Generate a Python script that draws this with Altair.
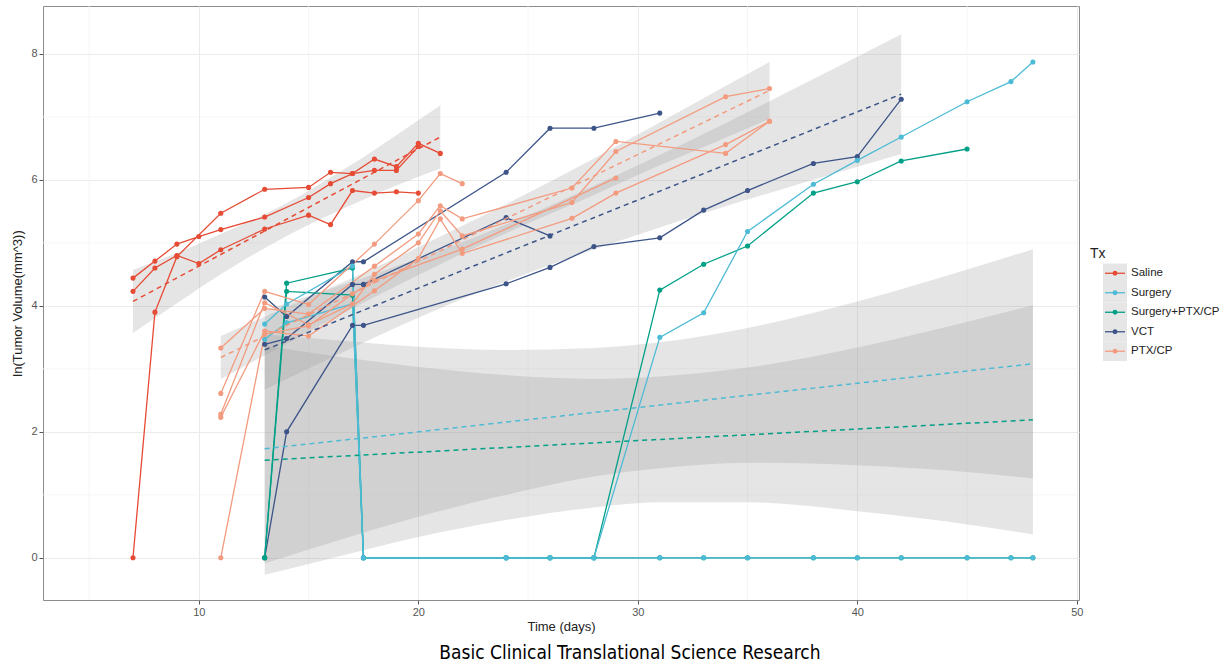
import altair as alt
import pandas as pd

TX_NAMES = ["Saline", "Surgery", "Surgery+PTX/CP", "VCT", "PTX/CP"]
TX_COLORS = ["#E64B35", "#4DBBD5", "#00A087", "#3C5488", "#F39B7F"]

X_TICKS = [10, 20, 30, 40, 50]
Y_TICKS = [0, 2, 4, 6, 8]
X_MINOR = [5, 15, 25, 35, 45]
Y_MINOR = [1, 3, 5, 7]

# ---- individual subjects (day, ln volume) ----
SAL1_DAY = [7, 8, 9, 10, 11, 13, 15, 16, 17, 18, 19, 20]
SAL1_VAL = [4.44, 4.71, 4.98, 5.10, 5.21, 5.41, 5.72, 5.94, 6.10, 6.15, 6.15, 6.53]
SAL2_DAY = [7, 8, 9, 10, 11, 13, 15, 16, 17, 18, 19, 20]
SAL2_VAL = [4.23, 4.60, 4.80, 4.67, 4.89, 5.22, 5.44, 5.29, 5.83, 5.79, 5.81, 5.79]
SAL3_DAY = [7, 8, 9, 11, 13, 15, 16, 17, 18, 19, 20, 21]
SAL3_VAL = [0.00, 3.90, 4.78, 5.47, 5.85, 5.88, 6.12, 6.10, 6.33, 6.21, 6.58, 6.42]

VCT1_DAY = [13, 14, 17, 17.5, 24, 26, 28, 31]
VCT1_VAL = [4.14, 3.83, 4.70, 4.70, 6.12, 6.82, 6.82, 7.06]
VCT2_DAY = [13, 14, 17, 17.5, 24, 26]
VCT2_VAL = [3.39, 3.48, 4.34, 4.34, 5.40, 5.11]
VCT3_DAY = [13, 14, 17, 17.5, 24, 26, 28, 31, 33, 35, 38, 40, 42]
VCT3_VAL = [0.00, 2.00, 3.69, 3.69, 4.35, 4.61, 4.94, 5.08, 5.52, 5.83, 6.26, 6.37, 7.28]

SPC1_DAY = [13, 14, 17, 17.5, 24, 26, 28, 31, 33, 35, 38, 40, 42, 45]
SPC1_VAL = [0.00, 4.36, 4.60, 0.00, 0.00, 0.00, 0.00, 4.25, 4.66, 4.95, 5.79, 5.97, 6.30, 6.49]
SPC2_DAY = [13, 14, 17, 17.5, 24, 26, 28, 31, 33, 35, 38, 40, 42, 45, 47, 48]
SPC2_VAL = [0.00, 4.23, 4.17, 0.00, 0.00, 0.00, 0.00, 0.00, 0.00, 0.00, 0.00, 0.00, 0.00, 0.00, 0.00, 0.00]

SUR1_DAY = [13, 14, 17, 17.5, 24, 26, 28, 31, 33, 35, 38, 40, 42, 45, 47, 48]
SUR1_VAL = [3.71, 4.03, 4.63, 0.00, 0.00, 0.00, 0.00, 0.00, 0.00, 0.00, 0.00, 0.00, 0.00, 0.00, 0.00, 0.00]
SUR2_DAY = [13, 14, 17, 17.5, 24, 26, 28, 31, 33, 35, 38, 40, 42, 45, 47, 48]
SUR2_VAL = [3.47, 3.73, 4.03, 0.00, 0.00, 0.00, 0.00, 3.50, 3.89, 5.18, 5.93, 6.31, 6.68, 7.24, 7.56, 7.87]

PTX1_DAY = [11, 13, 15, 17, 18, 20, 21, 22, 27, 29, 34, 36]
PTX1_VAL = [2.28, 4.05, 3.70, 4.03, 4.50, 5.00, 5.51, 5.11, 5.64, 6.45, 7.32, 7.45]
PTX2_DAY = [11, 13, 15, 18, 20, 21, 22, 27, 29, 34, 36]
PTX2_VAL = [3.33, 3.96, 3.87, 4.63, 5.14, 5.59, 5.38, 5.87, 6.61, 6.42, 6.93]
PTX3_DAY = [11, 13, 15, 18, 20, 21, 22, 27, 29, 34, 36]
PTX3_VAL = [2.23, 3.60, 3.52, 4.24, 4.75, 5.38, 4.83, 5.39, 5.79, 6.56, 6.93]
PTX4_DAY = [11, 13, 15, 18, 20, 21, 22]
PTX4_VAL = [2.61, 4.23, 4.02, 4.98, 5.67, 6.10, 5.94]
PTX5_DAY = [11, 13, 15, 17, 18, 22, 29]
PTX5_VAL = [0.00, 3.55, 3.68, 4.19, 4.40, 4.90, 6.03]

# ---- linear fits (dashed) ----
FIT_X0 = [7, 13, 13, 13, 11]
FIT_X1 = [21, 48, 48, 42, 36]
FIT_Y0 = [4.07, 1.73, 1.55, 3.30, 3.18]
FIT_Y1 = [6.68, 3.08, 2.19, 7.36, 7.42]

# ---- confidence bands ----
SAL_BAND_X = [7, 9, 11, 14, 17, 19, 21]
SAL_BAND_LO = [3.57, 4.04, 4.50, 5.11, 5.61, 5.91, 6.18]
SAL_BAND_HI = [4.57, 4.84, 5.14, 5.63, 6.25, 6.71, 7.18]
SUR_BAND_X = [13, 16, 20, 24, 28, 31, 35, 40, 44, 48]
SUR_BAND_LO = [-0.09, 0.24, 0.65, 1.00, 1.29, 1.42, 1.51, 1.47, 1.39, 1.26]
SUR_BAND_HI = [3.55, 3.46, 3.35, 3.30, 3.33, 3.42, 3.65, 4.07, 4.47, 4.90]
SPC_BAND_X = [13, 16, 20, 24, 28, 31, 35, 40, 44, 48]
SPC_BAND_LO = [-0.27, -0.01, 0.33, 0.60, 0.80, 0.88, 0.88, 0.74, 0.58, 0.37]
SPC_BAND_HI = [3.37, 3.21, 3.03, 2.90, 2.84, 2.88, 3.02, 3.34, 3.66, 4.01]
VCT_BAND_X = [13, 16, 20, 23, 26, 30, 34, 38, 42]
VCT_BAND_LO = [2.67, 3.17, 3.81, 4.25, 4.65, 5.13, 5.58, 6.00, 6.41]
VCT_BAND_HI = [3.93, 4.27, 4.75, 5.15, 5.59, 6.23, 6.90, 7.60, 8.31]
PTX_BAND_X = [11, 14, 17, 21, 25, 28, 31, 34, 36]
PTX_BAND_LO = [2.84, 3.40, 3.96, 4.66, 5.31, 5.76, 6.23, 6.67, 6.97]
PTX_BAND_HI = [3.52, 3.98, 4.44, 5.10, 5.79, 6.34, 6.91, 7.49, 7.87]

SUBJECTS = [
    ("Saline", "sal1", SAL1_DAY, SAL1_VAL),
    ("Saline", "sal2", SAL2_DAY, SAL2_VAL),
    ("Saline", "sal3", SAL3_DAY, SAL3_VAL),
    ("VCT", "vct1", VCT1_DAY, VCT1_VAL),
    ("VCT", "vct2", VCT2_DAY, VCT2_VAL),
    ("VCT", "vct3", VCT3_DAY, VCT3_VAL),
    ("Surgery+PTX/CP", "spc1", SPC1_DAY, SPC1_VAL),
    ("Surgery+PTX/CP", "spc2", SPC2_DAY, SPC2_VAL),
    ("Surgery", "sur1", SUR1_DAY, SUR1_VAL),
    ("Surgery", "sur2", SUR2_DAY, SUR2_VAL),
    ("PTX/CP", "ptx1", PTX1_DAY, PTX1_VAL),
    ("PTX/CP", "ptx2", PTX2_DAY, PTX2_VAL),
    ("PTX/CP", "ptx3", PTX3_DAY, PTX3_VAL),
    ("PTX/CP", "ptx4", PTX4_DAY, PTX4_VAL),
    ("PTX/CP", "ptx5", PTX5_DAY, PTX5_VAL),
]
BANDS = [
    ("Saline", SAL_BAND_X, SAL_BAND_LO, SAL_BAND_HI),
    ("Surgery", SUR_BAND_X, SUR_BAND_LO, SUR_BAND_HI),
    ("Surgery+PTX/CP", SPC_BAND_X, SPC_BAND_LO, SPC_BAND_HI),
    ("VCT", VCT_BAND_X, VCT_BAND_LO, VCT_BAND_HI),
    ("PTX/CP", PTX_BAND_X, PTX_BAND_LO, PTX_BAND_HI),
]

rows = []
for tx, sid, days, vals in SUBJECTS:
    for d, v in zip(days, vals):
        rows.append({"Tx": tx, "id": sid, "day": d, "vol": v})
df = pd.DataFrame(rows)

brows = []
for tx, xs, los, his in BANDS:
    for x, lo, hi in zip(xs, los, his):
        brows.append({"Tx": tx, "day": x, "lo": lo, "hi": hi})
band_df = pd.DataFrame(brows)

frows = []
for tx, x0, x1, y0, y1 in zip(TX_NAMES, FIT_X0, FIT_X1, FIT_Y0, FIT_Y1):
    frows.append({"Tx": tx, "day": x0, "vol": y0})
    frows.append({"Tx": tx, "day": x1, "vol": y1})
fit_df = pd.DataFrame(frows)

FONT = "Liberation Sans"
W, H = 1036, 594

xscale = alt.Scale(domain=[2.9, 50.1], nice=False, zero=False)
yscale = alt.Scale(domain=[-0.67, 8.76], nice=False, zero=False)
xax = alt.Axis(values=X_TICKS, grid=True, gridColor="#ebebeb", gridWidth=1, domain=False,
               tickColor="#555555", tickSize=4, labelColor="#555555", labelFontSize=11,
               labelFont=FONT, labelPadding=2, title="Time (days)", titleFont=FONT,
               titleFontSize=13, titleFontWeight="normal", titleColor="#222222", titlePadding=3)
yax = alt.Axis(values=Y_TICKS, grid=True, gridColor="#ebebeb", gridWidth=1, domain=False,
               tickColor="#555555", tickSize=4, labelColor="#555555", labelFontSize=11,
               labelFont=FONT, labelPadding=2, title="ln(Tumor Volume(mm^3))", titleFont=FONT,
               titleFontSize=13, titleFontWeight="normal", titleColor="#222222", titlePadding=6)
cscale = alt.Scale(domain=TX_NAMES, range=TX_COLORS)

minor_x = alt.Chart(pd.DataFrame({"day": X_MINOR})).mark_rule(color="#f4f4f4", strokeWidth=0.8).encode(
    x=alt.X("day:Q", scale=xscale, axis=xax))
minor_y = alt.Chart(pd.DataFrame({"vol": Y_MINOR})).mark_rule(color="#f4f4f4", strokeWidth=0.8).encode(
    y=alt.Y("vol:Q", scale=yscale, axis=yax))

bands = alt.Chart(band_df).mark_area(interpolate="monotone", color="#999999", opacity=0.25).encode(
    x=alt.X("day:Q", scale=xscale, axis=xax),
    y=alt.Y("lo:Q", scale=yscale, axis=yax),
    y2="hi:Q",
    detail="Tx:N",
)

lines = alt.Chart(df).mark_line(strokeWidth=1.3).encode(
    x=alt.X("day:Q", scale=xscale, axis=xax),
    y=alt.Y("vol:Q", scale=yscale, axis=yax),
    color=alt.Color("Tx:N", scale=cscale, legend=None),
    detail="id:N",
)
points = alt.Chart(df).mark_circle(size=26, opacity=1).encode(
    x=alt.X("day:Q", scale=xscale, axis=xax),
    y=alt.Y("vol:Q", scale=yscale, axis=yax),
    color=alt.Color("Tx:N", scale=cscale, legend=None),
)
fits = alt.Chart(fit_df).mark_line(strokeWidth=1.5, strokeDash=[5, 4]).encode(
    x=alt.X("day:Q", scale=xscale, axis=xax),
    y=alt.Y("vol:Q", scale=yscale, axis=yax),
    color=alt.Color("Tx:N", scale=cscale, legend=None),
    detail="Tx:N",
)

main = alt.layer(minor_x, minor_y, bands, lines, points, fits).properties(
    width=W, height=H, view=alt.ViewBackground(stroke="#8c8c8c", strokeWidth=1))

# ---- legend panel ----
LEG_DOMAIN = ["Tx"] + TX_NAMES
leg_df = pd.DataFrame({"Tx": TX_NAMES})
yleg = alt.Y("Tx:N", scale=alt.Scale(domain=LEG_DOMAIN, range=[238, 355], paddingInner=0, paddingOuter=0),
             axis=None)
leg_bg = alt.Chart(leg_df).mark_rect(color="#e6e6e6").encode(
    y=yleg, x=alt.value(19), x2=alt.value(43))
leg_line = alt.Chart(leg_df).mark_rule(strokeWidth=1.3).encode(
    y=yleg, x=alt.value(21), x2=alt.value(41),
    color=alt.Color("Tx:N", scale=cscale, legend=None))
leg_pt = alt.Chart(leg_df).mark_circle(size=24, opacity=1).encode(
    y=yleg, x=alt.value(31), color=alt.Color("Tx:N", scale=cscale, legend=None))
leg_txt = alt.Chart(leg_df).mark_text(align="left", baseline="middle", font=FONT, fontSize=11.5,
                                      color="#222222").encode(
    y=yleg, x=alt.value(47), text="Tx:N")
leg_title = alt.Chart(pd.DataFrame({"Tx": ["Tx"]})).mark_text(
    align="left", baseline="middle", font=FONT, fontSize=14, color="#222222").encode(
    y=yleg, x=alt.value(6), text="Tx:N")
legend = alt.layer(leg_bg, leg_line, leg_pt, leg_txt, leg_title).properties(
    width=140, height=H, view=alt.ViewBackground(stroke="transparent"))

chart = alt.hconcat(main, legend, spacing=5, bounds="flush").properties(
    padding={"left": 11, "top": 5, "right": 0, "bottom": 5},
    title=alt.TitleParams("Basic Clinical Translational Science Research", orient="bottom",
                          anchor="middle", fontSize=19, dx=12,
                          font="Liberation Sans Narrow, DejaVu Sans Condensed, Liberation Sans",
                          fontWeight="normal", color="#000000", offset=10),
).resolve_scale(color="shared")

chart.save("out.html", embed_options={"renderer": "svg", "actions": False})
